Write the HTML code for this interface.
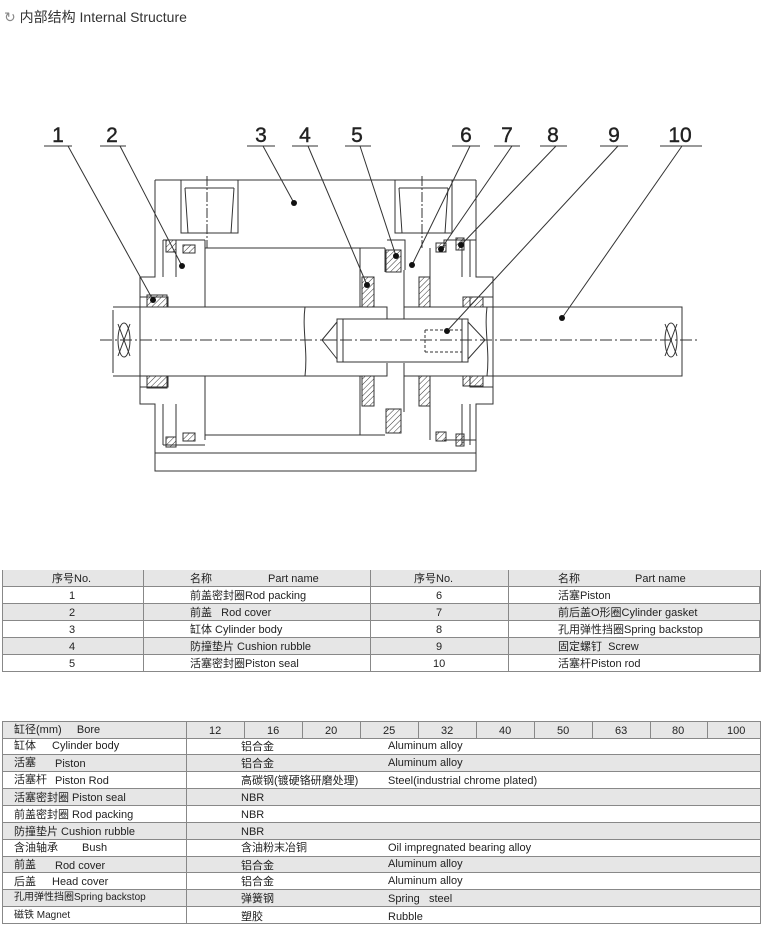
<!DOCTYPE html>
<html><head><meta charset="utf-8"><style>
body{margin:0;width:765px;height:936px;background:#fff;position:relative;overflow:hidden;font-family:"Liberation Sans","Noto Sans CJK SC",sans-serif;color:#222}
.t{position:absolute;font-size:11px;white-space:nowrap;line-height:12px}
.row{position:absolute;left:2px;width:758px;border-bottom:1px solid #888}
.g{background:#e6e6e6}
.v{position:absolute;width:1px;background:#888}
</style></head><body>
<div class="t" style="left:4px;top:9px;font-size:14px;line-height:16px;color:#333"><span style="color:#888">&#x21BB;</span> 内部结构 Internal Structure</div>

<svg width="765" height="560" style="position:absolute;left:0;top:0" xmlns="http://www.w3.org/2000/svg">
<defs><pattern id="h" width="4" height="4" patternUnits="userSpaceOnUse" patternTransform="rotate(45)"><line x1="0" y1="0" x2="0" y2="4" stroke="#333" stroke-width="1"/></pattern></defs>
<g fill="none" stroke="#333" stroke-width="1">
<path d="M155 180H476M155 180V277H140V404H155V453M476 180V277H493V404H476V453"/>
<rect x="155" y="453" width="321" height="18"/>
<path d="M181 180V233H238V180M185 188L188 233M234 188L231 233M185 188H234"/>
<path d="M395 180V233H452V180M399 188L402 233M448 188L445 233M399 188H448"/>
<path d="M207 176V248M422 176V248" stroke-dasharray="10,2,2,2"/>
<path d="M205 248H385M205 435H385M444 248V240H476M444 440H476"/>
<path d="M205 240V307M205 376V440M163 240V277M176 240V277M163 404V445M176 404V445M163 240H205M163 445H205"/>
<path d="M462 240V277M470 240V277M462 404V445M470 404V445"/>
<path d="M360 248V307M360 376V435M385 248V272M430 248V307M430 376V440M404 270V307M404 376V412M387 240H405V270"/>
<path d="M113 307H387V319M113 376H387V363M404 319V307H682V376H404V363"/>
<path d="M113 310V373"/>
<ellipse cx="124" cy="340" rx="6" ry="17"/><path d="M118 324L130 356M130 324L118 356"/>
<ellipse cx="671" cy="340" rx="6" ry="17"/><path d="M665 324L677 356M677 324L665 356"/>
<path d="M337 319H468V362H337ZM343 319V362M462 319V362M337 340L322 340M322 340L337 322M322 340L337 359M468 322L485 340L468 359"/>
<path d="M425 330H462M425 352H462M425 330V352" stroke-dasharray="3,2"/>
<path d="M100 340H700" stroke-dasharray="12,3,2,3"/>
<path d="M305 307C302 330 308 350 305 376M487 307C484 330 490 350 487 376"/>
<path d="M140 297H168V307M140 387H168V376M493 297H470V307M493 387H470V376"/>
</g>
<g fill="url(#h)" stroke="#333" stroke-width="1">
<rect x="147" y="295" width="20" height="12"/><rect x="147" y="376" width="20" height="12"/>
<rect x="463" y="297" width="20" height="10"/><rect x="463" y="376" width="20" height="10"/>
<rect x="166" y="240" width="10" height="12"/><rect x="166" y="437" width="10" height="10"/>
<rect x="183" y="245" width="12" height="8"/><rect x="183" y="433" width="12" height="8"/>
<rect x="362" y="277" width="12" height="30"/><rect x="362" y="376" width="12" height="30"/>
<rect x="419" y="277" width="11" height="30"/><rect x="419" y="376" width="11" height="30"/>
<rect x="386" y="250" width="15" height="22"/><rect x="386" y="409" width="15" height="24"/>
<rect x="436" y="243" width="10" height="9"/><rect x="436" y="432" width="10" height="9"/>
<rect x="456" y="238" width="8" height="12"/><rect x="456" y="434" width="8" height="12"/>
</g>
<g font-family="Liberation Sans,sans-serif" font-size="21" fill="#222" text-anchor="middle" stroke="#222" stroke-width="0.4">
<text x="58" y="142">1</text><text x="112" y="142">2</text><text x="261" y="142">3</text><text x="305" y="142">4</text><text x="357" y="142">5</text><text x="466" y="142">6</text><text x="507" y="142">7</text><text x="553" y="142">8</text><text x="614" y="142">9</text><text x="680" y="142">10</text>
</g>
<g stroke="#333" stroke-width="1">
<path d="M44 146H72M100 146H126M247 146H275M292 146H318M345 146H371M452 146H480M494 146H520M540 146H567M600 146H628M660 146H702"/>
<path d="M68 146L153 300M120 146L182 266M263 146L294 203M308 146L367 285M360 146L396 256M470 146L412 265M512 146L441 249M556 146L461 245M618 146L447 331M682 146L562 318"/>
</g>
<g fill="#111"><circle cx="153" cy="300" r="3"/><circle cx="182" cy="266" r="3"/><circle cx="294" cy="203" r="3"/><circle cx="367" cy="285" r="3"/><circle cx="396" cy="256" r="3"/><circle cx="412" cy="265" r="3"/><circle cx="441" cy="249" r="3"/><circle cx="461" cy="245" r="3"/><circle cx="447" cy="331" r="3"/><circle cx="562" cy="318" r="3"/></g>
</svg>

<div style="position:absolute;left:2px;top:570px;width:758px;height:101px;border:1px solid #888;border-bottom:none;box-sizing:border-box"></div>
<div class="row g" style="top:570px;height:16px"></div>
<div class="row" style="top:587px;height:16px"></div>
<div class="row g" style="top:604px;height:16px"></div>
<div class="row" style="top:621px;height:16px"></div>
<div class="row g" style="top:638px;height:16px"></div>
<div class="row" style="top:655px;height:16px"></div>
<div class="v" style="left:2px;top:570px;height:102px"></div><div class="v" style="left:143px;top:570px;height:102px"></div><div class="v" style="left:370px;top:570px;height:102px"></div><div class="v" style="left:508px;top:570px;height:102px"></div><div class="v" style="left:760px;top:570px;height:102px"></div>
<div class="t" style="left:52px;top:573px">序号No.</div><div class="t" style="left:190px;top:573px">名称</div><div class="t" style="left:268px;top:573px">Part name</div><div class="t" style="left:414px;top:573px">序号No.</div><div class="t" style="left:558px;top:573px">名称</div><div class="t" style="left:635px;top:573px">Part name</div>
<div class="t" style="left:69px;top:590px">1</div><div class="t" style="left:190px;top:590px">前盖密封圈Rod packing</div><div class="t" style="left:436px;top:590px">6</div><div class="t" style="left:558px;top:590px">活塞Piston</div>
<div class="t" style="left:69px;top:607px">2</div><div class="t" style="left:190px;top:607px">前盖&nbsp;&nbsp;&nbsp;Rod cover</div><div class="t" style="left:436px;top:607px">7</div><div class="t" style="left:558px;top:607px">前后盖O形圈Cylinder gasket</div>
<div class="t" style="left:69px;top:624px">3</div><div class="t" style="left:190px;top:624px">缸体 Cylinder body</div><div class="t" style="left:436px;top:624px">8</div><div class="t" style="left:558px;top:624px">孔用弹性挡圈Spring backstop</div>
<div class="t" style="left:69px;top:641px">4</div><div class="t" style="left:190px;top:641px">防撞垫片 Cushion rubble</div><div class="t" style="left:436px;top:641px">9</div><div class="t" style="left:558px;top:641px">固定螺钉&nbsp;&nbsp;Screw</div>
<div class="t" style="left:69px;top:658px">5</div><div class="t" style="left:190px;top:658px">活塞密封圈Piston seal</div><div class="t" style="left:433px;top:658px">10</div><div class="t" style="left:558px;top:658px">活塞杆Piston rod</div>

<div class="row g" style="left:2px;top:721px;height:16px;border-top:1px solid #888"></div>
<div class="row" style="top:738px;height:16px"></div>
<div class="row g" style="top:755px;height:16px"></div>
<div class="row" style="top:772px;height:16px"></div>
<div class="row g" style="top:789px;height:16px"></div>
<div class="row" style="top:806px;height:16px"></div>
<div class="row g" style="top:823px;height:16px"></div>
<div class="row" style="top:840px;height:16px"></div>
<div class="row g" style="top:857px;height:15px"></div>
<div class="row" style="top:873px;height:16px"></div>
<div class="row g" style="top:890px;height:16px"></div>
<div class="row" style="top:907px;height:16px"></div>
<div class="v" style="left:2px;top:721px;height:203px"></div><div class="v" style="left:186px;top:721px;height:203px"></div><div class="v" style="left:760px;top:721px;height:203px"></div>
<div class="v" style="left:244px;top:721px;height:17px"></div><div class="v" style="left:302px;top:721px;height:17px"></div><div class="v" style="left:360px;top:721px;height:17px"></div><div class="v" style="left:418px;top:721px;height:17px"></div><div class="v" style="left:476px;top:721px;height:17px"></div><div class="v" style="left:534px;top:721px;height:17px"></div><div class="v" style="left:592px;top:721px;height:17px"></div><div class="v" style="left:650px;top:721px;height:17px"></div><div class="v" style="left:707px;top:721px;height:17px"></div>
<div class="t" style="left:14px;top:724px">缸径(mm)&nbsp;&nbsp;&nbsp;&nbsp;&nbsp;Bore</div>
<div class="t" style="left:209px;top:725px">12</div><div class="t" style="left:267px;top:725px">16</div><div class="t" style="left:325px;top:725px">20</div><div class="t" style="left:383px;top:725px">25</div><div class="t" style="left:441px;top:725px">32</div><div class="t" style="left:499px;top:725px">40</div><div class="t" style="left:557px;top:725px">50</div><div class="t" style="left:615px;top:725px">63</div><div class="t" style="left:672px;top:725px">80</div><div class="t" style="left:727px;top:725px">100</div>
<div class="t" style="left:14px;top:740px">缸体</div><div class="t" style="left:52px;top:740px">Cylinder body</div><div class="t" style="left:241px;top:741px">铝合金</div><div class="t" style="left:388px;top:740px">Aluminum alloy</div>
<div class="t" style="left:14px;top:757px">活塞</div><div class="t" style="left:55px;top:758px">Piston</div><div class="t" style="left:241px;top:758px">铝合金</div><div class="t" style="left:388px;top:757px">Aluminum alloy</div>
<div class="t" style="left:14px;top:774px">活塞杆</div><div class="t" style="left:55px;top:775px">Piston Rod</div><div class="t" style="left:241px;top:775px">高碳钢(镀硬铬研磨处理)</div><div class="t" style="left:388px;top:775px">Steel(industrial chrome plated)</div>
<div class="t" style="left:14px;top:792px">活塞密封圈 Piston seal</div><div class="t" style="left:241px;top:792px">NBR</div>
<div class="t" style="left:14px;top:809px">前盖密封圈 Rod packing</div><div class="t" style="left:241px;top:809px">NBR</div>
<div class="t" style="left:14px;top:826px">防撞垫片 Cushion rubble</div><div class="t" style="left:241px;top:826px">NBR</div>
<div class="t" style="left:14px;top:842px">含油轴承</div><div class="t" style="left:82px;top:842px">Bush</div><div class="t" style="left:241px;top:842px">含油粉末冶铜</div><div class="t" style="left:388px;top:842px">Oil impregnated bearing alloy</div>
<div class="t" style="left:14px;top:859px">前盖</div><div class="t" style="left:55px;top:860px">Rod cover</div><div class="t" style="left:241px;top:860px">铝合金</div><div class="t" style="left:388px;top:858px">Aluminum alloy</div>
<div class="t" style="left:14px;top:876px">后盖</div><div class="t" style="left:52px;top:876px">Head cover</div><div class="t" style="left:241px;top:876px">铝合金</div><div class="t" style="left:388px;top:875px">Aluminum alloy</div>
<div class="t" style="left:14px;top:892px;font-size:10px">孔用弹性挡圈Spring backstop</div><div class="t" style="left:241px;top:893px">弹簧钢</div><div class="t" style="left:388px;top:893px">Spring&nbsp;&nbsp;&nbsp;steel</div>
<div class="t" style="left:14px;top:910px;font-size:10px">磁铁 Magnet</div><div class="t" style="left:241px;top:911px">塑胶</div><div class="t" style="left:388px;top:911px">Rubble</div>
</body></html>
